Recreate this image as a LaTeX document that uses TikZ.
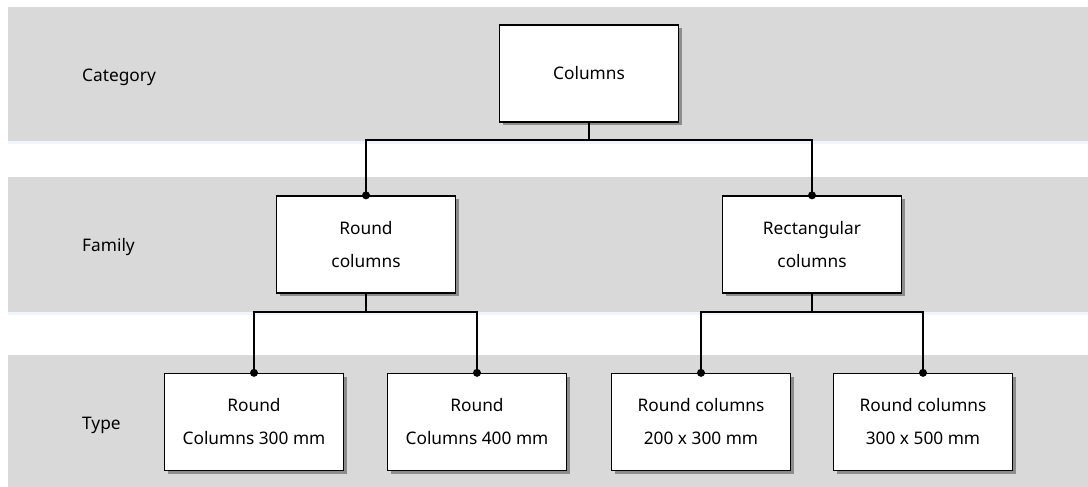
\documentclass[tikz,border=0pt]{standalone}
\usepackage{fontspec}
\setmainfont{Noto Sans}
\usetikzlibrary{shadows}
\definecolor{band}{HTML}{D9D9D9}
\definecolor{bandedge}{HTML}{F1F4F9}
\begin{document}
\begin{tikzpicture}[x=1pt,y=-1pt,
  box/.style={draw=black, line width=1.3pt, fill=white,
    minimum width=179pt, minimum height=97pt, inner sep=0pt,
    align=center, font=\fontsize{17.3}{33}\selectfont,
    drop shadow={shadow xshift=3pt, shadow yshift=-3pt, fill=black!45, opacity=1}},
  lbl/.style={anchor=west, inner sep=0pt, font=\fontsize{17.3}{20}\selectfont},
  link/.style={line width=1.3pt}]
\useasboundingbox (0,0) rectangle (1088,487);
\fill[white] (0,0) rectangle (1088,487);
% level bands
\foreach \t/\b in {7/141, 177/312, 355/490} {
  \fill[band] (8,\t) rectangle (1088,\b);
  \fill[bandedge] (8,\b) rectangle (1088,\b+3);
}
% level names
\node[lbl] (lcat) at (82,77) {Category};
\node[lbl] (lfam) at (82,247) {Family};
\node[lbl] (ltyp) at (82,425) {Type};
% hierarchy boxes
\node[box] (cat) at (589,73.5) {Columns};
\node[box] (fr) at (366,244.5) {Round\\columns};
\node[box] (fq) at (812,244.5) {Rectangular\\columns};
\node[box] (t1) at (254,422) {Round\\Columns 300 mm};
\node[box] (t2) at (477,422) {Round\\Columns 400 mm};
\node[box] (t3) at (701,422) {Round columns\\200 x 300 mm};
\node[box] (t4) at (923,422) {Round columns\\300 x 500 mm};
% connectors
\coordinate (j0) at (589,140);
\coordinate (j1) at (366,312);
\coordinate (j2) at (812,312);
\draw[link] (cat.south) -- (j0);
\draw[link] (fr.north) |- (j0) -| (fq.north);
\draw[link] (fr.south) -- (j1);
\draw[link] (t1.north) |- (j1) -| (t2.north);
\draw[link] (fq.south) -- (j2);
\draw[link] (t3.north) |- (j2) -| (t4.north);
\foreach \n in {fr,fq,t1,t2,t3,t4} \fill (\n.north) circle (4pt);
\end{tikzpicture}
\end{document}
